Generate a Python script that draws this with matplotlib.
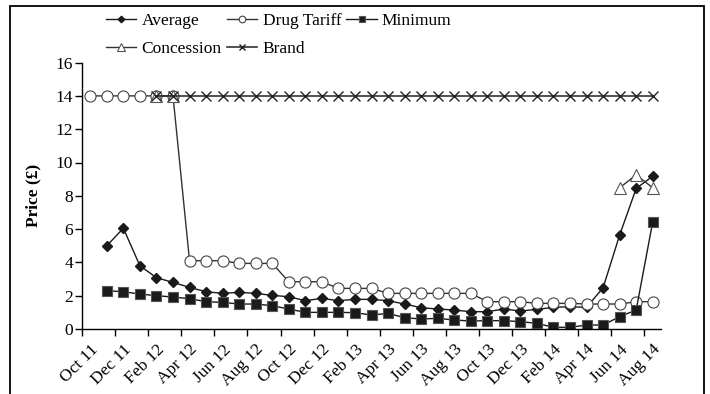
import numpy as np
import matplotlib.pyplot as plt
from matplotlib.patches import Rectangle

plt.rcParams['font.family'] = ['Liberation Serif', 'DejaVu Serif']

nan = np.nan

months = ['Oct 11', 'Nov 11', 'Dec 11', 'Jan 12', 'Feb 12', 'Mar 12', 'Apr 12', 'May 12',
          'Jun 12', 'Jul 12', 'Aug 12', 'Sep 12', 'Oct 12', 'Nov 12', 'Dec 12', 'Jan 13',
          'Feb 13', 'Mar 13', 'Apr 13', 'May 13', 'Jun 13', 'Jul 13', 'Aug 13', 'Sep 13',
          'Oct 13', 'Nov 13', 'Dec 13', 'Jan 14', 'Feb 14', 'Mar 14', 'Apr 14', 'May 14',
          'Jun 14', 'Jul 14', 'Aug 14']

average = [nan, 5.0, 6.05, 3.8, 3.08, 2.8, 2.5, 2.24, 2.14, 2.2, 2.14, 2.02, 1.94, 1.7,
           1.84, 1.7, 1.78, 1.78, 1.7, 1.5, 1.28, 1.2, 1.14, 1.04, 1.04, 1.2, 1.08, 1.18,
           1.3, 1.34, 1.3, 2.48, 5.64, 8.44, 9.18]

drug_tariff = [14.0, 14.0, 14.0, 14.0, 14.0, 14.0, 4.1, 4.1, 4.1, 3.94, 3.94, 3.94, 2.84,
               2.84, 2.84, 2.44, 2.44, 2.44, 2.14, 2.14, 2.14, 2.14, 2.14, 2.14, 1.64,
               1.64, 1.64, 1.54, 1.54, 1.54, 1.5, 1.5, 1.5, 1.64, 1.64]

minimum = [nan, 2.3, 2.24, 2.1, 2.0, 1.92, 1.82, 1.64, 1.6, 1.5, 1.5, 1.4, 1.2, 1.0, 1.0,
           1.0, 0.98, 0.84, 0.94, 0.68, 0.6, 0.64, 0.54, 0.48, 0.5, 0.5, 0.44, 0.34, 0.1,
           0.1, 0.24, 0.24, 0.74, 1.14, 6.44]

concession = [nan] * 4 + [14.0, 14.0] + [nan] * 26 + [8.48, 9.26, 8.48]

brand = [nan] * 4 + [14.0] * 31

x = np.arange(len(months))
fs = 12.5

fig = plt.figure(figsize=(7.1, 3.94), dpi=100)
ax = fig.add_axes([82 / 710, 1 - 329 / 394, (661 - 82) / 710, (329 - 62.6) / 394])

lc = '#1a1a1a'
ax.plot(x, average, color=lc, lw=1, marker='D', ms=5.5, mfc=lc, mec=lc, label='Average')
ax.plot(x, drug_tariff, color='#333333', lw=1, marker='o', ms=8, mfc='white',
        mec='#444444', mew=0.8, label='Drug Tariff')
ax.plot(x, minimum, color=lc, lw=1, marker='s', ms=6.5, mfc=lc, mec='#555555',
        mew=0.8, label='Minimum')
ax.plot(x, concession, color='#333333', lw=1, marker='^', ms=8.5, mfc='white',
        mec='#555555', mew=0.8, label='Concession')
ax.plot(x, brand, color='#333333', lw=1.2, marker='x', ms=6.5, mec='#222222',
        mew=1, label='Brand')

ax.set_xlim(-0.5, len(months) - 0.5)
ax.set_ylim(0, 16)
ax.set_yticks(np.arange(0, 17, 2))
ax.tick_params(axis='y', direction='out', length=5, width=1, labelsize=fs, pad=1.5)

ax.set_xticks(np.arange(-0.5, len(months) - 1, 2))
ax.set_xticklabels([])
ax.tick_params(axis='x', which='major', direction='out', length=5, width=1)
ax.set_xticks(x[::2], minor=True)
ax.set_xticklabels(months[::2], minor=True, rotation=45, ha='right',
                   rotation_mode='anchor', fontsize=fs)
ax.tick_params(axis='x', which='minor', length=0, pad=9)

for s in ['top', 'right']:
    ax.spines[s].set_visible(False)
for s in ['left', 'bottom']:
    ax.spines[s].set_linewidth(1)
    ax.spines[s].set_color('black')

ax.set_ylabel('Price (£)', fontsize=fs, fontweight='bold', labelpad=10)

h, l = ax.get_legend_handles_labels()
order = [0, 3, 1, 4, 2]
fig.legend([h[i] for i in order], [l[i] for i in order], ncol=3, frameon=False,
           loc='upper left', bbox_to_anchor=(106 / 710, 1 - 13 / 394),
           borderpad=0, borderaxespad=0, fontsize=fs, markerscale=0.6,
           handlelength=1.75, handletextpad=0.3, columnspacing=0.3, labelspacing=0.7)

fig.patches.append(Rectangle((10 / 710, -0.1), (704 - 10) / 710, 1.1 - 6 / 394,
                             transform=fig.transFigure, fill=False, lw=1.3,
                             edgecolor='black'))

fig.savefig('out.png', dpi=100)
